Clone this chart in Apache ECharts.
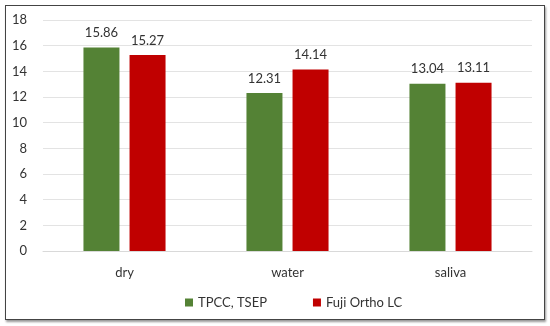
<!DOCTYPE html>
<html><head><meta charset="utf-8">
<script src="https://cdn.jsdelivr.net/npm/echarts@6/dist/echarts.min.js"></script>
<style>
html,body{margin:0;padding:0;background:#fff;}
#frame{position:absolute;left:5px;top:5px;width:538px;height:313px;border:1px solid #444;box-shadow:1px 2px 2px #999;}
#c{position:absolute;left:0;top:0;width:550px;height:326px;}
</style></head>
<body>
<div id="frame"></div>
<div id="c"></div>
<script>
const categories = ['dry', 'water', 'saliva'];
const seriesNames = ['TPCC, TSEP', 'Fuji Ortho LC'];
const tpcc = [15.86, 12.31, 13.04];
const fuji = [15.27, 14.14, 13.11];
const yTicks = [0, 2, 4, 6, 8, 10, 12, 14, 16, 18];

const chart = echarts.init(document.getElementById('c'));
const font = 'Lato, "Open Sans", sans-serif';
chart.setOption({
  animation: false,
  textStyle: { fontFamily: font },
  grid: { left: 43, right: 18, top: 20, bottom: 75 },
  legend: {
    top: 291, left: 180, itemWidth: 8, itemHeight: 8, itemGap: 46,
    icon: 'rect',
    textStyle: { fontSize: 13, color: '#333', fontFamily: font },
    data: seriesNames
  },
  xAxis: {
    type: 'category', data: categories,
    axisLine: { lineStyle: { color: '#d9d9d9' } },
    axisTick: { show: false },
    axisLabel: { fontSize: 13, color: '#333', margin: 15, fontFamily: font }
  },
  yAxis: {
    type: 'value', min: yTicks[0], max: yTicks[yTicks.length - 1], interval: 2,
    axisLine: { show: false }, axisTick: { show: false },
    splitLine: { lineStyle: { color: '#e3e3e3' } },
    axisLabel: { fontSize: 13, color: '#333', margin: 16, fontFamily: font }
  },
  series: [
    { name: seriesNames[0], type: 'bar', data: tpcc, barWidth: 36, barGap: '28%',
      itemStyle: { color: '#548235' },
      label: { show: true, position: 'top', distance: 8, fontSize: 13, color: '#333', fontFamily: font, formatter: p => p.value.toFixed(2) } },
    { name: seriesNames[1], type: 'bar', data: fuji, barWidth: 36,
      itemStyle: { color: '#c00000' },
      label: { show: true, position: 'top', distance: 8, fontSize: 13, color: '#333', fontFamily: font, formatter: p => p.value.toFixed(2) } }
  ]
});
</script>
</body></html>
